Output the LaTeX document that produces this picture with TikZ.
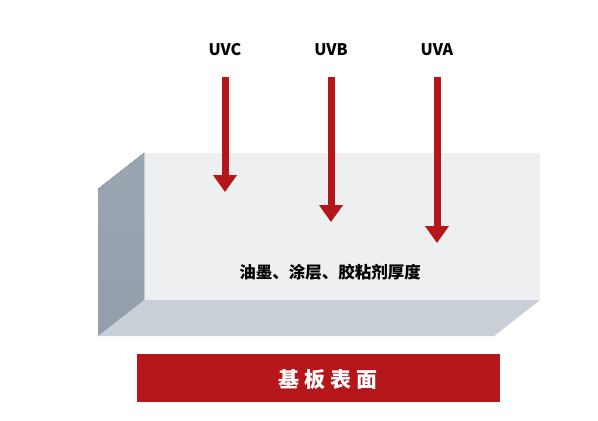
\documentclass[tikz,border=0pt]{standalone}
\usepackage{fontspec}
\setmainfont{Noto Sans CJK SC}
\usetikzlibrary{arrows.meta,calc}
\definecolor{hongse}{HTML}{B4161A}
\definecolor{matruoc}{HTML}{EEEFF1}
\definecolor{matben}{HTML}{98A3AF}
\definecolor{matday}{HTML}{C8CFD6}
\begin{document}
\begin{tikzpicture}[x=1pt, y=-1pt, line join=round,
	tia/.style={draw=hongse, line width=7pt, -{Triangle[width=23pt,length=17pt]}},
	nhan/.style={font=\bfseries\fontsize{16}{18}\selectfont}]
	\useasboundingbox (0,0) rectangle (598,421);
	\def\xa{144} \def\xb{540} \def\ya{153} \def\yb{300} \def\dx{46} \def\dy{36}
	\coordinate (A) at (\xa,\ya);
	\coordinate (B) at (\xb,\ya);
	\coordinate (C) at (\xb,\yb);
	\coordinate (D) at (\xa,\yb);
	\coordinate (A1) at ($(A)+(-\dx,\dy)$);
	\coordinate (D1) at ($(D)+(-\dx,\dy)$);
	\coordinate (C1) at ($(C)+(-\dx,\dy)$);
	\fill[matruoc] (A)--(B)--(C)--(D)--cycle;
	\fill[top color=matben!97!white, bottom color=matben!97!black] (A)--(D)--(D1)--(A1)--cycle;
	\fill[matday] (D)--(C)--(C1)--(D1)--cycle;
	\node[font=\bfseries\fontsize{16.5}{18}\selectfont] (lop) at (330,272) {油墨、涂层、胶粘剂厚度};
	% tia UV
	\foreach \ten/\x/\y in {UVC/225/192, UVB/331/222, UVA/437/243}{
		\node[nhan] (\ten) at (\x,50) {\ten};
		\coordinate (\ten-dau) at (\x,77);
		\coordinate (\ten-cuoi) at (\x,\y);
		\draw[tia] (\ten-dau)--(\ten-cuoi);
	}
	\node[fill=hongse, minimum width=363pt, minimum height=48pt, inner sep=0pt] (nen) at (318.5,378) {};
	\node[text=white, font=\bfseries\fontsize{21}{23}\selectfont] (chu) at (328,380)
		{基\kern5pt 板\kern5pt 表\kern5pt 面};
\end{tikzpicture}
\end{document}
